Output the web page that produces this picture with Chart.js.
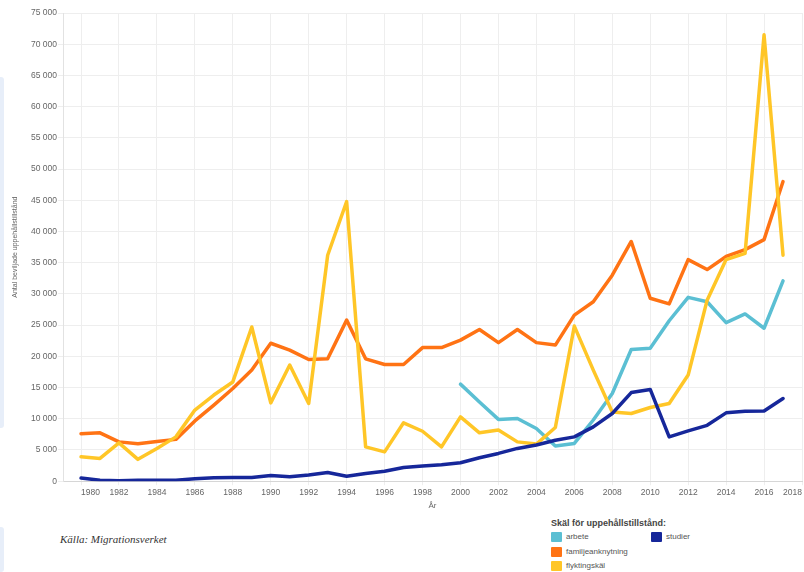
<!DOCTYPE html>
<html lang="sv">
<head>
<meta charset="utf-8">
<title>Beviljade uppehållstillstånd</title>
<script src="https://cdn.jsdelivr.net/npm/chart.js@4/dist/chart.umd.min.js"></script>
<style>
  html, body { margin: 0; padding: 0; background: #fff; }
  #page { position: relative; width: 804px; height: 572px; overflow: hidden; font-family: "Liberation Sans", Arial, sans-serif; }
  #chartBox { position: absolute; left: 0; top: 0; width: 804px; height: 514px; }
  .sidebar { position: absolute; left: 0; width: 4px; background: #e7eef9; border-radius: 0 3px 3px 0; }
  #source { position: absolute; left: 60px; top: 533px; font-family: "Liberation Serif", "DejaVu Serif", serif; font-style: italic; font-size: 11px; color: #333; }
  #legend { position: absolute; left: 551px; top: 518px; font-size: 8px; color: #555; }
  #legend .title { font-weight: bold; font-size: 9px; color: #444; margin-bottom: 3px; }
  #legend .item { position: absolute; white-space: nowrap; }
  #legend .box { display: inline-block; width: 11px; height: 10px; border-radius: 1px; vertical-align: middle; margin-right: 4px; }
</style>
</head>
<body>
<div id="page">
  <div class="sidebar" style="top:77px;height:351px"></div>
  <div class="sidebar" style="top:527px;height:45px"></div>
  <div id="chartBox"><canvas id="chart"></canvas></div>
  <div id="source">Källa: Migrationsverket</div>
  <div id="legend">
    <div class="title">Skäl för uppehållstillstånd:</div>
  </div>
</div>
<script>
  // år 1980-2017
  const years = [1980, 1981, 1982, 1983, 1984, 1985, 1986, 1987, 1988, 1989,
                 1990, 1991, 1992, 1993, 1994, 1995, 1996, 1997, 1998, 1999,
                 2000, 2001, 2002, 2003, 2004, 2005, 2006, 2007, 2008, 2009,
                 2010, 2011, 2012, 2013, 2014, 2015, 2016, 2017];
  const tickYears = [1980, 1982, 1984, 1986, 1988, 1990, 1992, 1994, 1996, 1998,
                     2000, 2002, 2004, 2006, 2008, 2010, 2012, 2014, 2016, 2018];

  const arbete = [null, null, null, null, null, null, null, null, null, null,
                  null, null, null, null, null, null, null, null, null, null,
                  15550, 12700, 9900, 10050, 8450, 5650, 6050, 9800, 14050, 21100,
                  21300, 25700, 29450, 28750, 25400, 26800, 24500, 32100];
  const familjeanknytning = [7600, 7750, 6300, 6000, 6350, 6700, 9650, 12200, 14850, 17800,
                             22100, 21000, 19500, 19600, 25800, 19600, 18700, 18700, 21400, 21400,
                             22600, 24300, 22200, 24300, 22200, 21800, 26600, 28750, 33000, 38400,
                             29300, 28400, 35500, 33900, 36000, 37100, 38700, 48000];
  const flyktingskal = [3900, 3650, 6150, 3500, 5250, 7100, 11400, 13800, 15900, 24700,
                        12550, 18600, 12450, 36200, 44800, 5500, 4700, 9350, 8000, 5500,
                        10300, 7750, 8200, 6300, 5950, 8600, 24850, 17800, 11100, 10850,
                        11800, 12450, 17000, 29000, 35500, 36500, 71500, 36200];
  const studier = [500, 150, 80, 150, 160, 160, 400, 550, 600, 600,
                   900, 700, 1000, 1400, 800, 1250, 1600, 2200, 2450, 2650,
                   2950, 3750, 4450, 5250, 5800, 6550, 7100, 8700, 10850, 14200,
                   14700, 7100, 8050, 8950, 10950, 11200, 11250, 13250];

  const seriesNames = ['arbete', 'familjeanknytning', 'flyktingskäl', 'studier'];
  const seriesColors = ['#5bbfd3', '#ff7314', '#ffc627', '#16279a'];
  const seriesData = [arbete, familjeanknytning, flyktingskal, studier];

  // legend i två kolumner (som i originalet)
  const legendPos = [[0, 14], [0, 28.5], [0, 43], [100, 14]];
  const legendEl = document.getElementById('legend');
  [0, 3, 1, 2].forEach(i => {
    const item = document.createElement('div');
    item.className = 'item';
    item.style.left = legendPos[i][0] + 'px';
    item.style.top = legendPos[i][1] + 'px';
    item.innerHTML = '<span class="box" style="background:' + seriesColors[i] + '"></span>' + seriesNames[i];
    legendEl.appendChild(item);
  });

  function formatThousands(v) {
    return String(v).replace(/\B(?=(\d{3})+(?!\d))/g, ' ');
  }

  const datasets = seriesData.map((d, i) => ({
    label: seriesNames[i],
    data: d,
    borderColor: seriesColors[i],
    backgroundColor: seriesColors[i],
    borderWidth: 3.5,
    pointRadius: 0,
    tension: 0,
    fill: false,
    borderJoinStyle: 'round',
    borderCapStyle: 'round',
    order: 4 - i
  }));

  new Chart(document.getElementById('chart'), {
    type: 'line',
    data: { labels: years, datasets: datasets },
    options: {
      responsive: true,
      maintainAspectRatio: false,
      animation: false,
      layout: { padding: { top: 13, right: 0, bottom: 3, left: 0 } },
      plugins: {
        legend: { display: false },
        tooltip: { enabled: false }
      },
      scales: {
        x: {
          type: 'linear',
          min: 1979.05,
          max: 2018,
          afterBuildTicks: scale => {
            scale.ticks = tickYears.map(v => ({ value: v }));
          },
          ticks: {
            autoSkip: false,
            maxRotation: 0,
            align: 'inner',
            padding: 2,
            color: '#666',
            font: { family: 'Liberation Sans', size: 8.5 },
            callback: v => String(v)
          },
          grid: { color: '#eeeeee', tickLength: 4 },
          border: { color: '#d6d6d6' },
          title: {
            display: true,
            text: 'År',
            color: '#666',
            font: { family: 'Liberation Sans', size: 8 },
            padding: { top: 2, bottom: 0 }
          }
        },
        y: {
          min: 0,
          max: 75000,
          afterFit: scale => { scale.width = 63; },
          ticks: {
            stepSize: 5000,
            padding: 1,
            color: '#666',
            font: { family: 'Liberation Sans', size: 8.5 },
            callback: v => formatThousands(v)
          },
          grid: { color: '#eeeeee', tickLength: 5 },
          border: { color: '#e2e2e2' },
          title: {
            display: true,
            text: 'Antal beviljade uppehållstillstånd',
            color: '#666',
            font: { family: 'Liberation Sans', size: 7 },
            padding: { top: 11, bottom: 0 }
          }
        }
      }
    }
  });
</script>
</body>
</html>
